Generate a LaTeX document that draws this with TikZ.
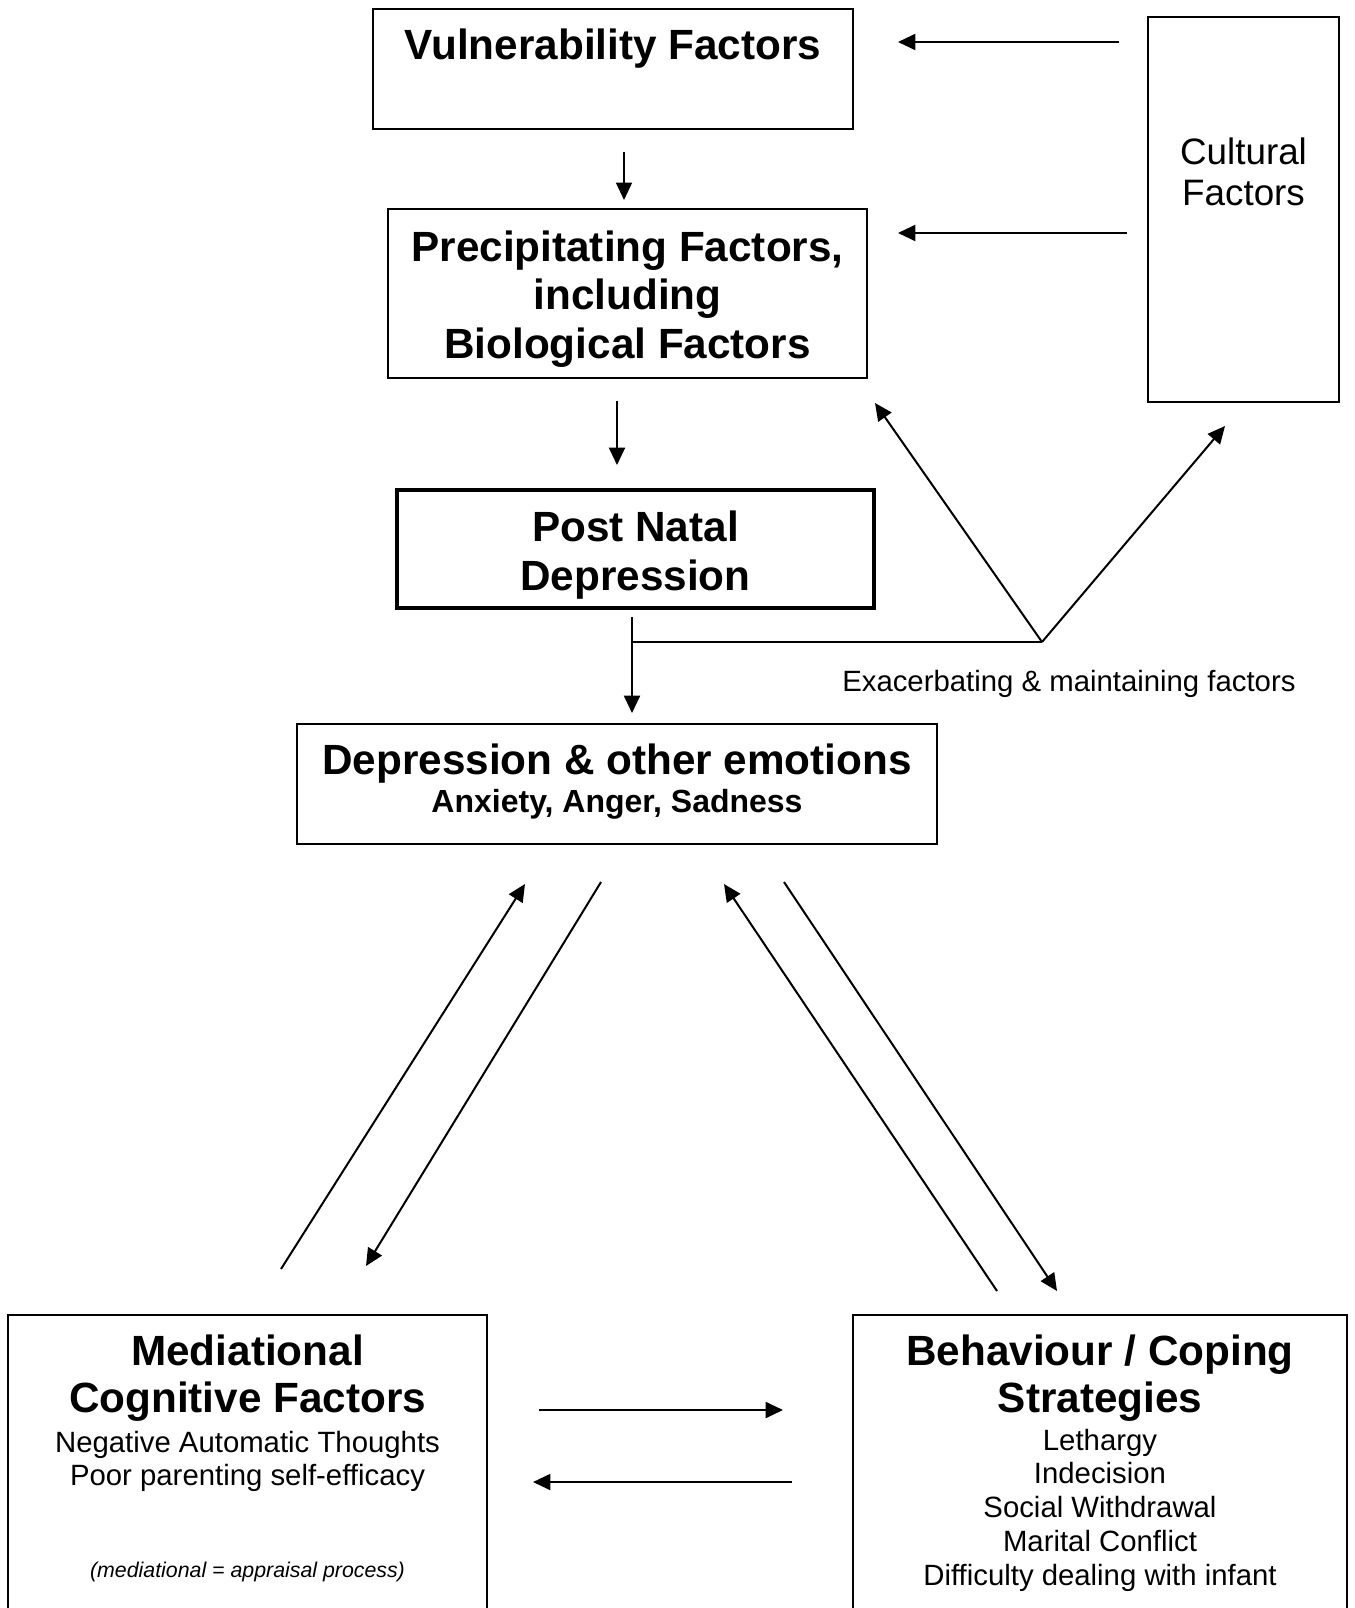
\documentclass[tikz,border=0pt]{standalone}
\usepackage{fontspec}
\setmainfont{Liberation Sans}
\usetikzlibrary{arrows.meta}
\begin{document}
\begin{tikzpicture}[x=0.75pt,y=-0.75pt,
  box/.style={draw, line width=1.1pt, inner sep=0pt, rectangle},
  thickbox/.style={draw, line width=3.2pt, inner sep=0pt, rectangle},
  head/.style={font=\fontsize{31.7}{36.2}\selectfont\bfseries, align=center, anchor=base, inner sep=0pt},
  sub/.style={font=\fontsize{22}{25.3}\selectfont, align=center, anchor=base, inner sep=0pt},
  arr/.style={-{Triangle[length=13pt,width=12pt]}, line width=1.5pt},
  line/.style={line width=1.5pt}
]
\useasboundingbox (0,0) rectangle (1354,1608);
\fill[white] (0,0) rectangle (1354,1608);

% boxes
\node[box, minimum width=360pt, minimum height=90pt] (vul) at (613,69) {};
\node[box, minimum width=359.25pt, minimum height=126.75pt] (pre) at (627.5,293.5) {};
\node[box, minimum width=143.25pt, minimum height=288.75pt] (cul) at (1243.5,209.5) {};
\node[thickbox, minimum width=357.75pt, minimum height=88.5pt] (pnd) at (635.5,549) {};
\node[box, minimum width=480pt, minimum height=90pt] (dep) at (617,784) {};
\node[box, minimum width=359.25pt, minimum height=236.25pt] (med) at (247.5,1472.5) {};
\node[box, minimum width=370.5pt, minimum height=236.25pt] (beh) at (1100,1472.5) {};

% texts (anchor=base is the baseline of the last line)
\node[head] (vulT) at (613,60) {Vulnerability Factors};
\node[head] (preT) at (627.5,358) {Precipitating Factors,\\including\\Biological Factors};
\node[font=\fontsize{27.6}{31}\selectfont, align=center, anchor=base, inner sep=0pt] (culT) at (1243.5,206) {Cultural\\Factors};
\node[head] (pndT) at (635.5,590) {Post Natal\\Depression};
\node[head] (depT) at (617,774) {Depression \& other emotions};
\node[font=\fontsize{24}{28}\selectfont\bfseries, anchor=base, inner sep=0pt] (depS) at (617,812) {Anxiety, Anger, Sadness};
\node[sub, anchor=base west] (exT) at (842,691) {Exacerbating \& maintaining factors};
\node[head, font=\fontsize{31.7}{35.25}\selectfont\bfseries] (medT) at (247.5,1412) {Mediational\\Cognitive Factors};
\node[sub, font=\fontsize{22}{24.75}\selectfont] (medS) at (247.5,1485) {Negative Automatic Thoughts\\Poor parenting self-efficacy};
\node[font=\fontsize{16}{19}\selectfont\itshape, anchor=base, inner sep=0pt] (medN) at (247.5,1577) {(mediational = appraisal process)};
\node[head, font=\fontsize{31.7}{35.25}\selectfont\bfseries] (behT) at (1100,1412) {Behaviour / Coping\\Strategies};
\node[sub] (behS) at (1100,1585) {Lethargy\\Indecision\\Social Withdrawal\\Marital Conflict\\Difficulty dealing with infant};

% connector end points
\coordinate (v1) at (624,152);   \coordinate (p1) at (624,200);
\coordinate (p2) at (617,401);   \coordinate (n1) at (617,465);
\coordinate (c1) at (1119,42);   \coordinate (v2) at (898,42);
\coordinate (c2) at (1127,233);  \coordinate (p3) at (898,233);
\coordinate (n2) at (632,617);   \coordinate (d1) at (632,713);
\coordinate (br) at (632,642);   \coordinate (vee) at (1042,642);
\coordinate (p4) at (875,403);   \coordinate (c3) at (1225,426);
\coordinate (m1) at (281,1269);  \coordinate (d2) at (525,884);
\coordinate (d3) at (601,882);   \coordinate (m2) at (366,1266);
\coordinate (b1) at (997,1291);  \coordinate (d4) at (724,884);
\coordinate (d5) at (784,882);   \coordinate (b2) at (1057,1291);
\coordinate (m3) at (539,1410);  \coordinate (b3) at (783,1410);
\coordinate (b4) at (792,1482);  \coordinate (m4) at (533,1482);

% connectors
\draw[arr, line width=1.2pt] (v1) -- (p1);
\draw[arr] (p2) -- (n1);
\draw[arr] (c1) -- (v2);
\draw[arr] (c2) -- (p3);
\draw[arr] (n2) -- (d1);
\draw[line] (br) -- (vee);
\draw[arr] (vee) -- (p4);
\draw[arr] (vee) -- (c3);
\draw[arr] (m1) -- (d2);
\draw[arr] (d3) -- (m2);
\draw[arr] (b1) -- (d4);
\draw[arr] (d5) -- (b2);
\draw[arr] (m3) -- (b3);
\draw[arr] (b4) -- (m4);
\end{tikzpicture}
\end{document}
